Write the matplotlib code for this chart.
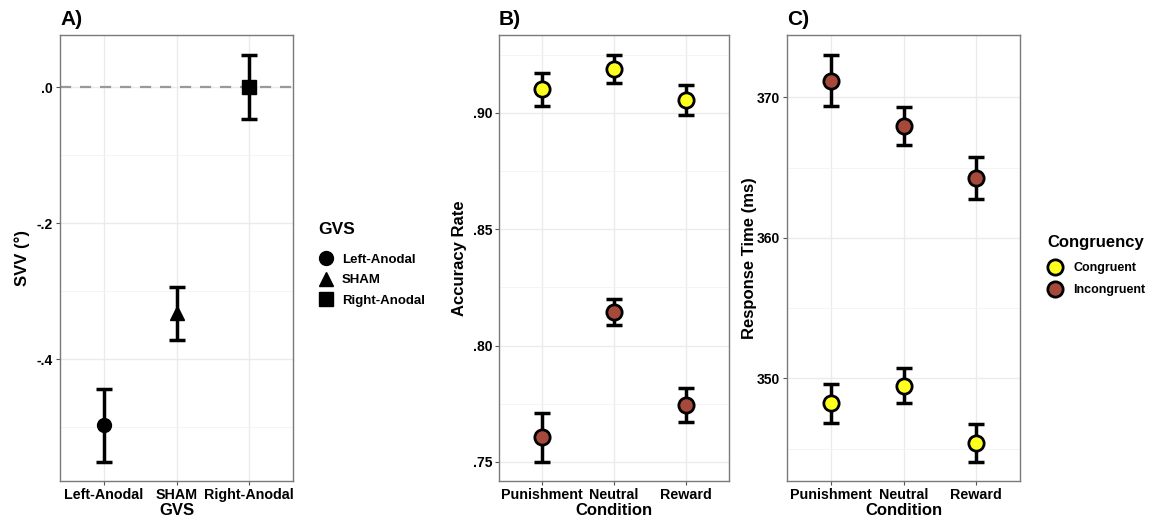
import numpy as np
import matplotlib.pyplot as plt
from matplotlib.lines import Line2D
from matplotlib.ticker import FixedLocator

# Panel A: SVV by GVS
gvs_labels = ['Left-Anodal', 'SHAM', 'Right-Anodal']
gvs_markers = ['o', '^', 's']
svv_mean = [-0.497, -0.332, 0.0]
svv_low = [-0.551, -0.372, -0.047]
svv_high = [-0.444, -0.294, 0.047]

# Panel B / C: by condition and congruency
conditions = ['Punishment', 'Neutral', 'Reward']
congruency = ['Congruent', 'Incongruent']
cong_colors = ['#ffff1f', '#a6493a']

acc_mean = {'Congruent': [0.9102, 0.919, 0.9057],
            'Incongruent': [0.7609, 0.8145, 0.7745]}
acc_low = {'Congruent': [0.903, 0.913, 0.899],
           'Incongruent': [0.7501, 0.8088, 0.7672]}
acc_high = {'Congruent': [0.9173, 0.925, 0.912],
            'Incongruent': [0.7712, 0.820, 0.7818]}

rt_mean = {'Congruent': [348.22, 349.47, 345.37],
           'Incongruent': [371.18, 367.96, 364.26]}
rt_low = {'Congruent': [346.8, 348.22, 344.06],
          'Incongruent': [369.38, 366.62, 362.75]}
rt_high = {'Congruent': [349.59, 350.71, 346.72],
           'Incongruent': [372.99, 369.33, 365.76]}

plt.rcParams['font.family'] = ['Liberation Sans', 'DejaVu Sans']
plt.rcParams['font.weight'] = 'bold'

W, H = 1153, 517
fig = plt.figure(figsize=(W / 100, H / 100), dpi=100)


def px_axes(x0, x1, y0, y1):
    return fig.add_axes([x0 / W, 1 - y1 / H, (x1 - x0) / W, (y1 - y0) / H])


def style(ax, major, minor, labels):
    ax.set_xlim(0.4, 3.6)
    ax.yaxis.set_major_locator(FixedLocator(major))
    ax.yaxis.set_minor_locator(FixedLocator(minor))
    ax.set_yticklabels(labels)
    ax.grid(which='major', color='#ebebeb', lw=1.0, zorder=0)
    ax.grid(which='minor', axis='y', color='#f3f3f3', lw=0.6, zorder=0)
    ax.set_axisbelow(True)
    for s in ax.spines.values():
        s.set_color('#7a7a7a')
        s.set_linewidth(1.0)
    ax.tick_params(which='major', length=3, color='#555555', width=0.8,
                   labelsize=10, labelcolor='black', pad=2)
    ax.tick_params(axis='x', labelsize=10.3)
    ax.tick_params(which='minor', length=0)
    for t in ax.get_xticklabels() + ax.get_yticklabels():
        t.set_fontweight('bold')


x = np.arange(1, 4)

# ---- A ----
axA = px_axes(60, 293, 35, 481)
axA.axhline(0, color='#999999', ls=(0, (5, 4)), lw=1.6, zorder=1)
for i in range(3):
    axA.errorbar(x[i], svv_mean[i],
                 yerr=[[svv_mean[i] - svv_low[i]], [svv_high[i] - svv_mean[i]]],
                 fmt=gvs_markers[i], color='black', ms=10, elinewidth=2.5,
                 capsize=6, capthick=2.5, zorder=3)
axA.set_ylim(-0.579, 0.0765)
axA.set_xticks(x)
axA.set_xticklabels(gvs_labels)
style(axA, [-0.4, -0.2, 0.0], [-0.5, -0.3, -0.1], ['-.4', '-.2', '.0'])
axA.set_xlabel('GVS', fontsize=12, fontweight='bold', labelpad=1)
axA.set_ylabel('SVV (°)', fontsize=12, fontweight='bold', labelpad=5)
axA.set_title('A)', loc='left', fontsize=15, fontweight='bold', x=0.0, pad=7)


def cond_panel(ax, mean, low, high):
    for c, col in zip(congruency, cong_colors):
        m = np.array(mean[c])
        lo = m - np.array(low[c])
        hi = np.array(high[c]) - m
        ax.errorbar(x, m, yerr=[lo, hi], fmt='none', ecolor='black',
                    elinewidth=2.5, capsize=6, capthick=2.5, zorder=3)
        ax.plot(x, m, 'o', ms=11, mfc=col, mec='black', mew=2, zorder=4, ls='none')
    ax.set_xticks(x)
    ax.set_xticklabels(conditions)


# ---- B ----
axB = px_axes(499, 729, 35, 481)
cond_panel(axB, acc_mean, acc_low, acc_high)
axB.set_ylim(0.7418, 0.9335)
style(axB, [0.75, 0.80, 0.85, 0.90], [0.775, 0.825, 0.875, 0.925],
      ['.75', '.80', '.85', '.90'])
axB.set_xlabel('Condition', fontsize=12, fontweight='bold', labelpad=1)
axB.set_ylabel('Accuracy Rate', fontsize=12, fontweight='bold', labelpad=4)
axB.set_title('B)', loc='left', fontsize=15, fontweight='bold', x=0.0, pad=7)

# ---- C ----
axC = px_axes(787, 1020, 35, 481)
cond_panel(axC, rt_mean, rt_low, rt_high)
axC.set_ylim(342.69, 374.43)
style(axC, [350, 360, 370], [345, 355, 365], ['350', '360', '370'])
axC.set_xlabel('Condition', fontsize=12, fontweight='bold', labelpad=1)
axC.set_ylabel('Response Time (ms)', fontsize=12, fontweight='bold', labelpad=0)
axC.set_title('C)', loc='left', fontsize=15, fontweight='bold', x=0.0, pad=7)

# ---- legends ----
gvs_handles = [Line2D([], [], marker=m, color='black', ls='none', ms=10)
               for m in gvs_markers]
legA = fig.legend(gvs_handles, gvs_labels, title='GVS', loc='upper left',
                  bbox_to_anchor=(318 / W, 1 - 222 / H), frameon=False,
                  prop={'size': 9.5, 'weight': 'bold'}, handletextpad=0.6,
                  labelspacing=0.62, handlelength=1.2, borderaxespad=0,
                  borderpad=0)
legA.get_title().set_fontsize(12.5)
legA.get_title().set_fontweight('bold')
legA._legend_box.align = 'left'
legA._legend_box.sep = 12

cong_handles = [Line2D([], [], marker='o', mfc=c, mec='black', mew=2,
                       ls='none', ms=11) for c in cong_colors]
legC = fig.legend(cong_handles, congruency, title='Congruency', loc='upper left',
                  bbox_to_anchor=(1047 / W, 1 - 235 / H), frameon=False,
                  prop={'size': 9, 'weight': 'bold'}, handletextpad=0.9,
                  labelspacing=0.75, handlelength=1.2, borderaxespad=0,
                  borderpad=0)
legC.get_title().set_fontsize(12)
legC.get_title().set_fontweight('bold')
legC._legend_box.align = 'left'
legC._legend_box.sep = 9

fig.savefig('out.png', dpi=100, facecolor='white')
